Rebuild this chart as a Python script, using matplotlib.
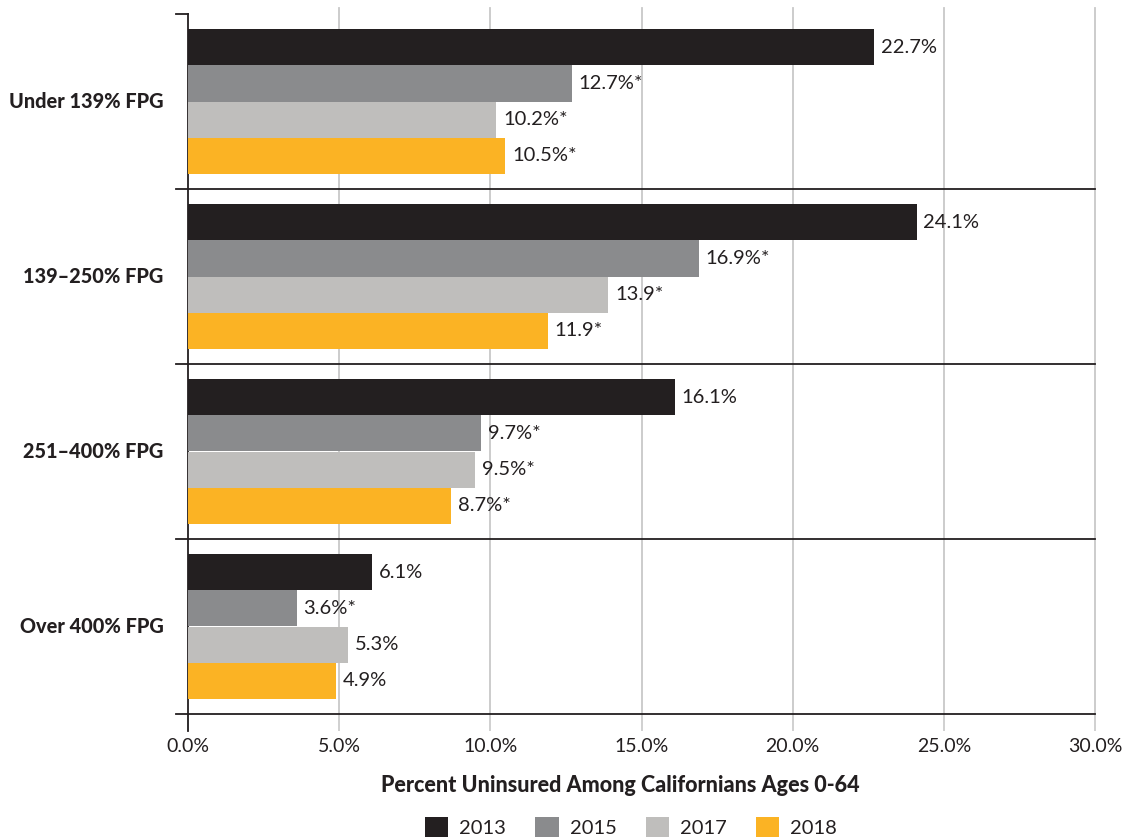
import numpy as np
import matplotlib.pyplot as plt
from matplotlib.patches import Patch
import matplotlib.transforms as mtransforms

plt.rcParams['font.family'] = ['Lato', 'DejaVu Sans']

groups = ['Under 139% FPG', '139\u2013250% FPG', '251\u2013400% FPG', 'Over 400% FPG']
years = ['2013', '2015', '2017', '2018']
colors = ['#231f20', '#8a8b8d', '#bfbebc', '#fbb324']

values = {
    '2013': [22.7, 24.1, 16.1, 6.1],
    '2015': [12.7, 16.9, 9.7, 3.6],
    '2017': [10.2, 13.9, 9.5, 5.3],
    '2018': [10.5, 11.9, 8.7, 4.9],
}
labels = {
    '2013': ['22.7%', '24.1%', '16.1%', '6.1%'],
    '2015': ['12.7%*', '16.9%*', '9.7%*', '3.6%*'],
    '2017': ['10.2%*', '13.9*', '9.5%*', '5.3%'],
    '2018': ['10.5%*', '11.9*', '8.7%*', '4.9%'],
}
xticks = [0, 5, 10, 15, 20, 25, 30]

fig = plt.figure(figsize=(11.38, 8.4), dpi=100)
ax = fig.add_axes([188 / 1138, 126 / 840, 907 / 1138, 700 / 840])

bar_h = 0.206
n = len(groups)
centers = np.arange(n) + 0.5   # group centres, top group at 0.5 (axis inverted)
for i, yr in enumerate(years):
    ypos = centers + (i - 1.5) * bar_h
    ax.barh(ypos, values[yr], height=bar_h, color=colors[i], zorder=3)
    for y, v, lab in zip(ypos, values[yr], labels[yr]):
        ax.text(v + 0.22, y, lab, va='center', ha='left', fontsize=14.5,
                color='#231f20', zorder=4)

ax.set_xlim(0, 30)
ax.set_ylim(n, 0)
ax.set_xticks(xticks)
ax.set_xticklabels(['{:.1f}%'.format(t) for t in xticks], fontsize=14, color='#231f20')
ax.tick_params(axis='x', length=12, width=1.2, color='#c8c8c8', pad=5)
ax.set_yticks([])

for s in ['top', 'right', 'bottom']:
    ax.spines[s].set_visible(False)
ax.spines['left'].set_color('#231f20')
ax.spines['left'].set_linewidth(1.3)

# vertical gridlines, slightly overshooting the plot area
trans = mtransforms.blended_transform_factory(ax.transData, ax.transAxes)
for t in xticks[1:]:
    ax.plot([t, t], [1.008, 0], transform=trans, color='#c8c8c8', lw=1.3,
            clip_on=False, zorder=1)
ax.plot([0, 0], [0, -0.024], transform=trans, color='#231f20', lw=1.3,
        clip_on=False, zorder=5)

# group separators
trans2 = mtransforms.blended_transform_factory(ax.transAxes, ax.transData)
for y in range(1, n + 1):
    ax.plot([-0.0135, 1], [y, y], transform=trans2, color='#231f20', lw=1.3,
            clip_on=False, zorder=5)
ax.plot([-0.0135, 0], [0, 0], transform=trans2, color='#231f20', lw=1.3,
        clip_on=False, zorder=5)

for c, g in zip(centers, groups):
    ax.text(-0.027, c, g, transform=trans2, ha='right', va='center',
            fontsize=14.3, fontweight='black', color='#231f20')

fig.text(620 / 1138, 1 - 785 / 840, 'Percent Uninsured Among Californians Ages 0-64',
         ha='center', va='center', fontsize=15.5, fontweight='black', color='#231f20')

handles = [Patch(facecolor=c, edgecolor='none') for c in colors]
fig.legend(handles, years, loc='center', bbox_to_anchor=(631 / 1138, 1 - 827 / 840),
           ncol=4, frameon=False, fontsize=14.5, handlelength=1.15, handleheight=1.15,
           columnspacing=1.45, handletextpad=0.55, labelcolor='#231f20')

fig.savefig('out.png', dpi=100)
